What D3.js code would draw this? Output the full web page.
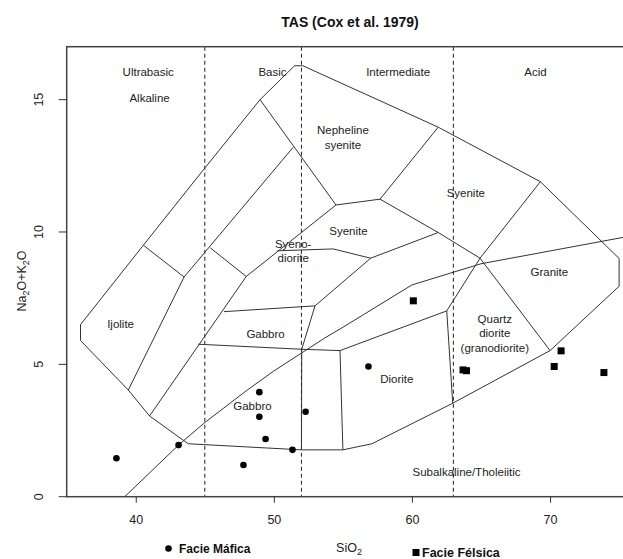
<!DOCTYPE html>
<html>
<head>
<meta charset="utf-8">
<script src="https://cdn.jsdelivr.net/npm/d3@7"></script>
<style>
  html, body { margin: 0; padding: 0; background: #fff; }
  svg { display: block; font-family: "Liberation Sans", Arial, sans-serif; }
</style>
</head>
<body>
<svg id="chart" width="623" height="559"></svg>
<script>
// ---------- data ----------
const xTicks = [40, 50, 60, 70];
const yTicks = [0, 5, 10, 15];
const dividers = [45, 52, 63];

// Facie Máfica (circles): SiO2, Na2O+K2O
const maficSiO2   = [38.6, 43.1, 48.95, 48.95, 49.4, 47.8, 51.35, 52.3, 56.85];
const maficAlk    = [1.45, 1.95, 3.95, 3.02, 2.18, 1.20, 1.77, 3.21, 4.92];
// Facie Félsica (squares)
const felsicSiO2  = [60.1, 63.7, 63.95, 70.8, 70.3, 73.9];
const felsicAlk   = [7.40, 4.79, 4.76, 5.51, 4.92, 4.69];

// field boundaries (SiO2, Na2O+K2O)
const outerLine = [[36,5.9],[36,6.5],[40.55,9.5],[44.9,12.35],[49,15],[51.5,16.28],[52.1,16.28],
  [61.9,13.96],[69.3,11.9],[75,9.0],[75,7.95],[70,5.52],[62.95,3.53],[57.1,2.0],[55,1.77],
  [52,1.77],[43.8,2.0],[41,3.05],[39.46,4.03],[36,5.9]];
const ijoliteTop   = [[40.55,9.5],[43.5,8.3]];
const lineB        = [[39.46,4.03],[43.5,8.3],[51.4,13.2]];
const crossB       = [[45.4,9.4],[48,8.32]];
const lineC        = [[41,3.05],[48,8.32],[54.5,11.02]];
const nephBoundary = [[49,15],[54.5,11.02],[57.69,11.24],[61.9,13.96]];
const syeniteBase  = [[50.25,9.29],[54.3,9.36],[57.01,9.01],[61.9,9.98],[64.93,9.01],[70,5.52]];
const syeniteSide  = [[57.69,11.24],[61.9,9.98]];
const graniteSide  = [[69.3,11.9],[64.93,9.01],[62.52,7.02]];
const gabbroTop    = [[46.39,6.99],[52.98,7.21],[57.01,9.01]];
const gabbroRight  = [[52.98,7.21],[52.02,5.57]];
const dioriteTop   = [[44.53,5.76],[52.02,5.57],[54.79,5.52],[62.52,7.02],[62.95,3.53]];
const gabbroSplit  = [[52.02,5.57],[52,1.77]];
const dioriteLeft  = [[54.79,5.52],[55,1.77]];
const alkalineLine = [[39.2,0],[40,0.4],[43.2,2],[45,2.8],[48,4],[50,4.75],[53.7,6],[55,6.4],[60,8],[65,8.8],[77.4,10]];
const fieldLines = [outerLine, ijoliteTop, lineB, crossB, lineC, nephBoundary, syeniteBase, syeniteSide,
  graniteSide, gabbroTop, gabbroRight, dioriteTop, gabbroSplit, dioriteLeft, alkalineLine];

// field labels: text lines, SiO2, Na2O+K2O of label centre
const labelText = [["Ultrabasic"],["Alkaline"],["Basic"],["Intermediate"],["Acid"],["Nepheline","syenite"],
  ["Syenite"],["Syenite"],["Syeno-","diorite"],["Gabbro"],["Ijolite"],["Gabbro"],["Diorite"],
  ["Quartz","diorite","(granodiorite)"],["Granite"],["Subalkaline/Tholeiitic"]];
const labelX = [40.9, 41.0, 49.9, 59.0, 68.95, 55.0, 63.9, 55.4, 51.4, 49.4, 38.9, 48.45, 58.9, 66.0, 69.95, 63.95];
const labelY = [16.05, 15.05, 16.05, 16.05, 16.05, 13.58, 11.46, 10.02, 9.29, 6.15, 6.51, 3.44, 4.45, 6.18, 8.48, 0.92];

// ---------- layout ----------
const svg = d3.select("#chart");
const mLeft = 66.7, mTop = 46.7, mBottom = 496.7;
const x = d3.scaleLinear().domain([35, 76]).range([mLeft, mLeft + 41 * 13.81]);
const y = d3.scaleLinear().domain([0, 17]).range([mBottom, mTop]);
const ink = "#222";

svg.append("defs").append("clipPath").attr("id", "plotclip")
  .append("rect").attr("x", x(35)).attr("y", y(17)).attr("width", x(76) - x(35)).attr("height", y(0) - y(17));

const plot = svg.append("g").attr("clip-path", "url(#plotclip)");

// dashed dividers
plot.selectAll("line.div").data(dividers).join("line")
  .attr("x1", d => x(d)).attr("x2", d => x(d)).attr("y1", y(17)).attr("y2", y(0))
  .attr("stroke", "#333").attr("stroke-width", 1.1).attr("stroke-dasharray", "4,3");

// field boundaries
const line = d3.line().x(d => x(d[0])).y(d => y(d[1]));
plot.selectAll("path.field").data(fieldLines).join("path")
  .attr("d", line).attr("fill", "none").attr("stroke", "#333").attr("stroke-width", 1);

// labels
const lab = svg.append("g").attr("font-size", 11.5).attr("fill", ink).attr("text-anchor", "middle");
labelText.forEach((lines, i) => {
  const n = lines.length, lh = 14.5;
  lines.forEach((t, j) => {
    lab.append("text").attr("x", x(labelX[i]))
      .attr("y", y(labelY[i]) + (j - (n - 1) / 2) * lh).attr("dy", "0.35em").text(t);
  });
});

// points
plot.selectAll("circle.maf").data(maficSiO2).join("circle")
  .attr("cx", d => x(d)).attr("cy", (d, i) => y(maficAlk[i])).attr("r", 3.3).attr("fill", "#000");
const sq = 7;
plot.selectAll("rect.fel").data(felsicSiO2).join("rect")
  .attr("x", d => x(d) - sq / 2).attr("y", (d, i) => y(felsicAlk[i]) - sq / 2)
  .attr("width", sq).attr("height", sq).attr("fill", "#000");

// box
svg.append("rect").attr("x", x(35)).attr("y", y(17)).attr("width", x(76) - x(35)).attr("height", y(0) - y(17))
  .attr("fill", "none").attr("stroke", "#444").attr("stroke-width", 1.5);

// x axis
const xa = svg.append("g").attr("transform", `translate(0,${mBottom})`)
  .call(d3.axisBottom(x).tickValues(xTicks).tickSize(6).tickPadding(12).tickFormat(d3.format("d")));
xa.select(".domain").remove();
xa.selectAll("line").attr("stroke", "#333");
xa.selectAll("text").attr("font-size", 12.5).attr("fill", ink).attr("font-family", "Liberation Sans, Arial, sans-serif");

// y axis (rotated labels, R style)
const ya = svg.append("g");
ya.selectAll("line").data(yTicks).join("line")
  .attr("x1", mLeft - 8).attr("x2", mLeft).attr("y1", d => y(d)).attr("y2", d => y(d)).attr("stroke", "#333");
ya.selectAll("text").data(yTicks).join("text")
  .attr("transform", d => `translate(39,${y(d)}) rotate(-90)`)
  .attr("text-anchor", "middle").attr("dy", "0.35em").attr("font-size", 12.5).attr("fill", ink).text(d => d);

// titles
svg.append("text").attr("x", 350).attr("y", 27).attr("text-anchor", "middle")
  .attr("font-size", 14).attr("font-weight", "bold").attr("fill", "#111").text("TAS (Cox et al. 1979)");

const xt = svg.append("text").attr("x", 349).attr("y", 552).attr("text-anchor", "middle")
  .attr("font-size", 12.5).attr("fill", ink);
xt.append("tspan").text("SiO");
xt.append("tspan").attr("font-size", 9).attr("dy", 3).text("2");

const yt = svg.append("text").attr("transform", "translate(22,281) rotate(-90)")
  .attr("text-anchor", "middle").attr("dy", "0.35em").attr("font-size", 12.5).attr("fill", ink);
yt.append("tspan").text("Na");
yt.append("tspan").attr("font-size", 9).attr("dy", 3).text("2");
yt.append("tspan").attr("dy", -3).text("O+K");
yt.append("tspan").attr("font-size", 9).attr("dy", 3).text("2");
yt.append("tspan").attr("dy", -3).text("O");

// legend
svg.append("circle").attr("cx", 168.5).attr("cy", 548.5).attr("r", 3.3).attr("fill", "#000");
svg.append("text").attr("x", 179).attr("y", 553).attr("font-size", 12).attr("font-weight", "bold")
  .attr("fill", "#111").text("Facie Máfica");
svg.append("rect").attr("x", 412.5).attr("y", 549).attr("width", 7).attr("height", 7).attr("fill", "#000");
svg.append("text").attr("x", 422).attr("y", 557).attr("font-size", 12.5).attr("font-weight", "bold")
  .attr("fill", "#111").text("Facie Félsica");
</script>
</body>
</html>
